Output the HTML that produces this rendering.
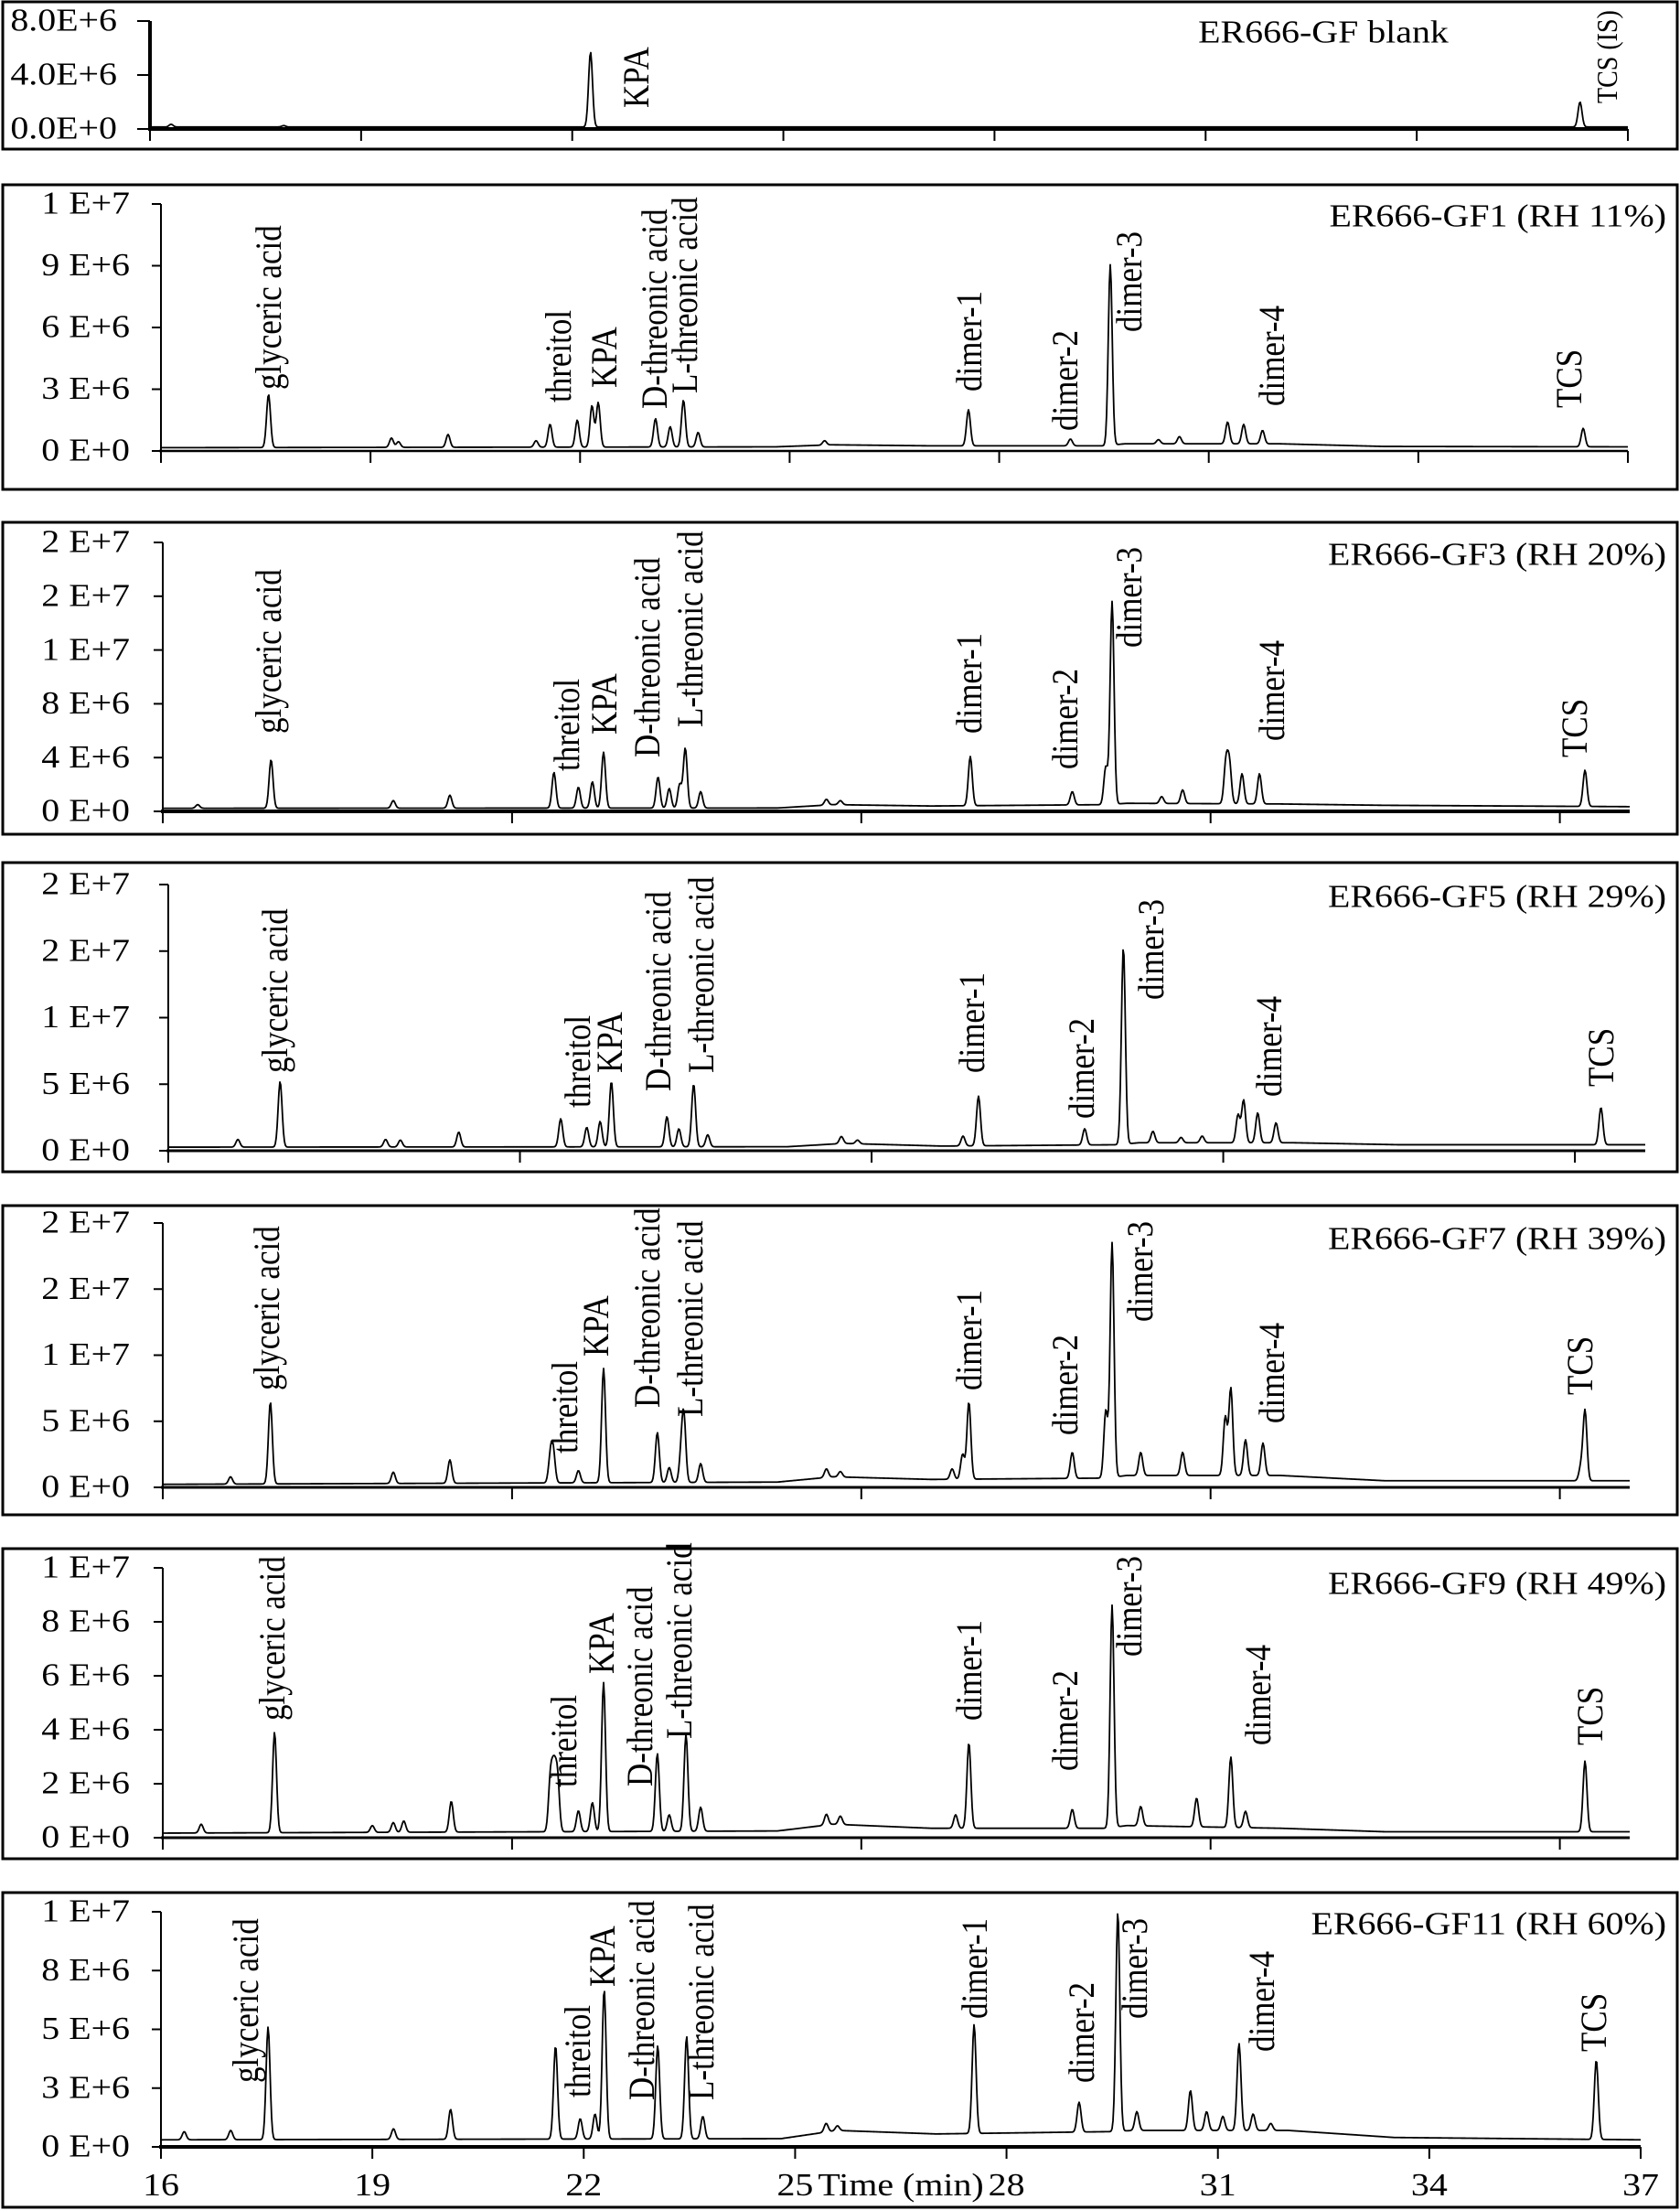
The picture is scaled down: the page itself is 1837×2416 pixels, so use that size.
<!DOCTYPE html>
<html><head><meta charset="utf-8">
<style>
html,body{margin:0;padding:0;background:#fff;}
svg{display:block;}
text{font-family:"Liberation Serif","Times New Roman",serif;fill:#000;}
</style></head>
<body>
<svg id="chart" width="1837" height="2416" viewBox="0 0 1837 2416" xmlns="http://www.w3.org/2000/svg"></svg>
<script>
// ---- shared data ----
const baseTimes = [16, 24.8, 25.6, 27, 29.5, 29.8, 32, 33.5, 37];
const compoundNames = ["glyceric acid","threitol","KPA","D-threonic acid","L-threonic acid","dimer-1","dimer-2","dimer-3","dimer-4","TCS"];
const xTickLabels = ["16","19","22","25","28","31","34","37"];

// ---- per-panel data (intensity in units of 1E6) ----
const blankTimes = [16.3, 17.9, 22.26, 36.32];
const blankHeights = [0.35, 0.25, 5.7, 2.0];
const blankBase = [0.15,0.15,0.15,0.15,0.15,0.15,0.15,0.15,0.15];

const gf1Times = [17.54,19.3,19.4,20.11,21.37,21.57,21.96,22.17,22.26,23.08,23.29,23.48,23.69,25.5,27.56,29.02,29.59,30.28,30.58,31.27,31.5,31.77,36.36];
const gf1Heights = [2.75,0.63,0.45,0.8,0.5,1.3,1.5,2.2,2.35,1.57,1.18,2.47,0.9,0.5,2.0,0.58,9.05,0.55,0.7,1.41,1.29,1.0,1.1];
const gf1Base = [0.16,0.2,0.3,0.25,0.25,0.35,0.35,0.22,0.2];

const gf3Times = [16.5,17.55,19.3,20.11,21.6,21.95,22.15,22.31,23.09,23.25,23.4,23.48,23.7,25.5,25.7,27.56,29.02,29.5,29.59,30.3,30.6,31.22,31.27,31.45,31.7,36.36];
const gf3Heights = [0.5,3.85,0.8,1.2,2.9,1.8,2.2,4.4,2.56,1.7,2.0,4.7,1.47,0.9,0.8,4.08,1.47,3.3,15.6,1.1,1.6,3.6,3.5,2.8,2.8,3.06];
const gf3Base = [0.23,0.25,0.5,0.4,0.5,0.6,0.55,0.45,0.35];

const gf5Times = [16.99,17.59,19.09,19.3,20.13,21.58,21.95,22.14,22.3,23.09,23.26,23.47,23.67,25.57,25.8,27.3,27.52,29.03,29.58,30.0,30.4,30.7,31.21,31.29,31.49,31.75,36.37];
const gf5Heights = [0.85,5.2,0.85,0.8,1.4,2.4,1.76,2.2,5.2,2.56,1.65,5.0,1.2,1.07,0.8,1.1,4.1,1.65,15.3,1.46,1.0,1.1,2.7,3.8,2.85,2.1,3.25];
const gf5Base = [0.27,0.3,0.55,0.35,0.45,0.6,0.6,0.45,0.45];

const gf7Times = [16.97,17.54,19.3,20.11,21.55,21.59,21.95,22.31,23.08,23.25,23.42,23.46,23.7,25.5,25.7,27.3,27.45,27.54,29.02,29.5,29.59,30.0,30.6,31.21,31.29,31.5,31.75,36.3,36.36];
const gf7Heights = [0.8,6.46,1.15,2.08,2.3,2.54,1.27,9.0,4.15,1.5,2.2,5.2,1.8,1.4,1.2,1.4,2.5,6.46,2.65,5.8,18.5,2.65,2.65,5.3,7.5,3.6,3.35,1.5,5.8];
const gf7Base = [0.23,0.4,0.8,0.6,0.7,0.9,0.9,0.5,0.5];

const gf9Times = [16.55,17.6,19.0,19.3,19.45,20.13,21.55,21.6,21.65,21.95,22.15,22.31,23.08,23.25,23.49,23.7,25.5,25.7,27.35,27.54,29.02,29.59,30.0,30.8,31.29,31.5,36.36];
const gf9Heights = [0.5,3.91,0.45,0.56,0.62,1.35,2.2,2.25,2.2,1.0,1.3,5.75,3.12,0.85,3.83,1.13,0.87,0.8,0.85,3.52,1.05,8.62,1.16,1.47,2.99,0.98,2.84];
const gf9Base = [0.17,0.25,0.5,0.35,0.35,0.45,0.35,0.22,0.22];

const gf11Times = [16.33,16.99,17.52,19.3,20.11,21.6,21.95,22.16,22.29,23.05,23.46,23.69,25.44,25.6,27.54,29.03,29.58,29.85,30.61,30.84,31.07,31.3,31.5,31.75,36.37];
const gf11Heights = [0.65,0.7,5.1,0.77,1.6,4.3,1.2,1.4,6.7,4.3,4.7,1.3,1.0,0.9,5.2,1.9,10.0,1.5,2.4,1.5,1.3,4.4,1.4,1.0,3.7];
const gf11Base = [0.3,0.35,0.7,0.55,0.65,0.7,0.7,0.4,0.3];

const blankTickVals = [0,4,8];
const blankTickLabels = ["0.0E+0","4.0E+6","8.0E+6"];
const gf1TickVals = [0,3,6,9,12];
const gf1TickLabels = ["0 E+0","3 E+6","6 E+6","9 E+6","1 E+7"];
const gf3TickVals = [0,4,8,12,16,20];
const gf3TickLabels = ["0 E+0","4 E+6","8 E+6","1 E+7","2 E+7","2 E+7"];
const gf5TickVals = [0,5,10,15,20];
const gf5TickLabels = ["0 E+0","5 E+6","1 E+7","2 E+7","2 E+7"];
const gf9TickVals = [0,2,4,6,8,10];
const gf9TickLabels = ["0 E+0","2 E+6","4 E+6","6 E+6","8 E+6","1 E+7"];
const gf11TickVals = [0,2.5,5,7.5,10];
const gf11TickLabels = ["0 E+0","3 E+6","5 E+6","8 E+6","1 E+7"];

// ---- layout ----
const panels = [
 {id:"blank", title:"ER666-GF blank", titleX:1447, titleAnchor:"middle", titleY:36, box:[2,163], x0:164, x1:1780, yTop:23, yZero:141, max:8, tv:blankTickVals, tl:blankTickLabels, times:blankTimes, heights:blankHeights, base:blankBase, xt:[16,19,22,25,28,31,34,37], axisW:4, labelRight:128,
  labels:[["KPA",697,118,35],["TCS (IS)",1758,113,28]]},
 {id:"gf1", title:"ER666-GF1 (RH 11%)", titleY:237, box:[202,535], x0:176, x1:1780, yTop:223, yZero:493, max:12, tv:gf1TickVals, tl:gf1TickLabels, times:gf1Times, heights:gf1Heights, base:gf1Base, xt:[16,19,22,25,28,31,34,37], axisW:2.5,
  labels:[[0,295,426],[1,612,440],[2,662,424],[3,717,447],[4,750,430],[5,1061,428],[6,1166,471],[7,1236,363],[8,1392,444],[9,1717,446]]},
 {id:"gf3", title:"ER666-GF3 (RH 20%)", titleY:607, box:[571,912], x0:178, x1:1782, yTop:593, yZero:887, max:20, tv:gf3TickVals, tl:gf3TickLabels, times:gf3Times, heights:gf3Heights, base:gf3Base, xt:[16,21,26,31,36], axisW:4,
  labels:[[0,295,802],[1,621,843],[2,662,803],[3,709,828],[4,756,795],[5,1061,802],[6,1166,841],[7,1236,708],[8,1392,810],[9,1723,828]]},
 {id:"gf5", title:"ER666-GF5 (RH 29%)", titleY:981, box:[943,1281], x0:184, x1:1799, yTop:967, yZero:1258, max:20, tv:gf5TickVals, tl:gf5TickLabels, times:gf5Times, heights:gf5Heights, base:gf5Base, xt:[16,21,26,31,36], axisW:3,
  labels:[[0,302,1173],[1,633,1211],[2,668,1173],[3,721,1193],[4,768,1173],[5,1064,1173],[6,1184,1223],[7,1260,1093],[8,1389,1199],[9,1752,1188]]},
 {id:"gf7", title:"ER666-GF7 (RH 39%)", titleY:1355, box:[1318,1656], x0:178, x1:1782, yTop:1337, yZero:1626, max:20, tv:gf5TickVals, tl:gf5TickLabels, times:gf7Times, heights:gf7Heights, base:gf7Base, xt:[16,21,26,31,36], axisW:3,
  labels:[[0,293,1520],[1,619,1589],[2,653,1483],[3,709,1539],[4,756,1549],[5,1061,1520],[6,1166,1569],[7,1248,1445],[8,1392,1556],[9,1729,1525]]},
 {id:"gf9", title:"ER666-GF9 (RH 49%)", titleY:1732, box:[1693,2032], x0:178, x1:1782, yTop:1714, yZero:2009, max:10, tv:gf9TickVals, tl:gf9TickLabels, times:gf9Times, heights:gf9Heights, base:gf9Base, xt:[16,21,26,31,36], axisW:3,
  labels:[[0,299,1881],[1,618,1954],[2,659,1830],[3,701,1953],[4,744,1901],[5,1061,1881],[6,1166,1936],[7,1236,1811],[8,1377,1908],[9,1740,1908]]},
 {id:"gf11", title:"ER666-GF11 (RH 60%)", titleY:2104, box:[2069,2413], x0:176, x1:1794, yTop:2090, yZero:2347, max:10, tv:gf11TickVals, tl:gf11TickLabels, times:gf11Times, heights:gf11Heights, base:gf11Base, xt:[16,19,22,25,28,31,34,37], axisW:4, xLabels:true,
  labels:[[0,270,2277],[1,633,2293],[2,660,2172],[3,703,2296],[4,768,2296],[5,1067,2207],[6,1184,2277],[7,1242,2207],[8,1381,2243],[9,1744,2243]]}
];

const NS = "http://www.w3.org/2000/svg";
const svg = document.getElementById("chart");
const SX = 1.14;
const SIGMA = 0.028;

function mk(tag, attrs, parent){
  const e = document.createElementNS(NS, tag);
  for (const k in attrs) e.setAttribute(k, attrs[k]);
  parent.appendChild(e);
  return e;
}
function baseAt(base, t){
  for (let i=0;i<baseTimes.length-1;i++){
    if (t>=baseTimes[i] && t<=baseTimes[i+1]){
      const f=(t-baseTimes[i])/(baseTimes[i+1]-baseTimes[i]);
      return base[i]+(base[i+1]-base[i])*f;
    }
  }
  return base[base.length-1];
}

panels.forEach(p=>{
  const g = mk("g", {}, svg);
  
  
  const xScale = t => p.x0 + (t-16)/21*(p.x1-p.x0);
  const yScale = v => p.yZero - v/p.max*(p.yZero-p.yTop);

  const frame = mk("rect", {x:3, y:p.box[0], width:1831, height:p.box[1]-p.box[0], fill:"none", stroke:"#000", "stroke-width":3}, g);
  
  

  let d = "";
  for (let px=p.x0; px<=p.x1; px+=1){
    const t = 16 + (px-p.x0)/(p.x1-p.x0)*21;
    let v = baseAt(p.base, t);
    for (let i=0;i<p.times.length;i++){
      const amp = Math.max(0, p.heights[i]-baseAt(p.base, p.times[i]));
      const z = (t-p.times[i])/SIGMA;
      if (Math.abs(z)<6) v += amp*Math.exp(-0.5*z*z);
    }
    d += (px===p.x0?"M":"L") + px + " " + yScale(v).toFixed(2) + " ";
  }
  const trace = mk("path", {d:d, fill:"none", stroke:"#000", "stroke-width":1.8, "stroke-linejoin":"round"}, g);
  
  

  const ya = mk("line", {x1:p.x0, y1:p.yTop, x2:p.x0, y2:p.yZero+2, stroke:"#000", "stroke-width":p.id==="blank"?4:2}, g);
  
  
  const lblRight = p.labelRight || 142;
  p.tv.forEach((v,i)=>{
    const y = yScale(v);
    const tk = mk("line", {x1:p.x0 - (p.id==="blank"?14:10), y1:y, x2:p.x0, y2:y, stroke:"#000", "stroke-width":2}, g);
    
    
    const tx = mk("text", {transform:`translate(${lblRight},${y}) scale(${SX},1)`, "text-anchor":"end", "dominant-baseline":"central", "font-size":35}, g);
    tx.textContent = p.tl[i];
    
    
  });

  const xa = mk("line", {x1:p.x0-2, y1:p.yZero, x2:p.x1, y2:p.yZero, stroke:"#000", "stroke-width":p.axisW}, g);
  
  
  p.xt.forEach((t,i)=>{
    const x = xScale(t);
    const tk = mk("line", {x1:x, y1:p.yZero, x2:x, y2:p.yZero+13, stroke:"#000", "stroke-width":2}, g);
    
    
    if (p.xLabels){
      const tx = mk("text", {transform:`translate(${x},2400) scale(${SX},1)`, "text-anchor":"middle", "font-size":35}, g);
      tx.textContent = xTickLabels[i];
      
      
    }
  });
  if (p.xLabels){
    const at = mk("text", {transform:`translate(985,2400) scale(${SX},1)`, "text-anchor":"middle", "font-size":35}, g);
    at.textContent = "Time (min)";
    
    
  }

  const tt = mk("text", {transform:`translate(${p.titleX||1822},${p.titleY}) scale(${SX},1)`, "text-anchor":p.titleAnchor||"end", "dominant-baseline":"central", "font-size":35}, g);
  tt.textContent = p.title;
  
  

  p.labels.forEach(l=>{
    const name = typeof l[0]==="number" ? compoundNames[l[0]] : l[0];
    const tx = mk("text", {transform:`translate(${l[1]},${l[2]}) scale(${SX},1) rotate(-90)`, "text-anchor":"start", "dominant-baseline":"central", "font-size":l[3]||35}, g);
    tx.textContent = name;
    
    
  });
});
</script>
</body></html>
